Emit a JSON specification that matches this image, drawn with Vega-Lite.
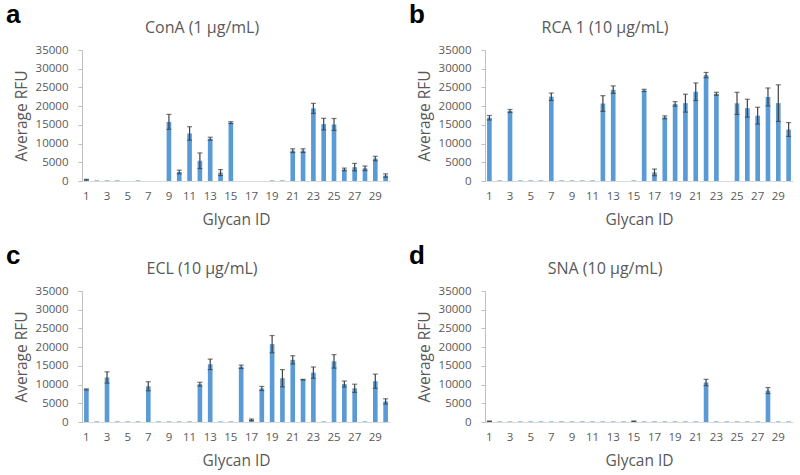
{
  "$schema": "https://vega.github.io/schema/vega-lite/v6.json",
  "padding": {"left": 6, "top": 2, "right": 2, "bottom": 2},
  "background": "white",
  "datasets": {
    "rfu": [
      {"panel":"a","id":1,"value":350,"err":100},{"panel":"a","id":2,"value":150,"err":0},{"panel":"a","id":3,"value":150,"err":0},{"panel":"a","id":4,"value":150,"err":0},{"panel":"a","id":5,"value":0,"err":0},{"panel":"a","id":6,"value":150,"err":0},{"panel":"a","id":7,"value":0,"err":0},{"panel":"a","id":8,"value":0,"err":0},{"panel":"a","id":9,"value":15800,"err":2000},{"panel":"a","id":10,"value":2400,"err":500},{"panel":"a","id":11,"value":12700,"err":1800},{"panel":"a","id":12,"value":5400,"err":2100},{"panel":"a","id":13,"value":11300,"err":400},{"panel":"a","id":14,"value":2250,"err":800},{"panel":"a","id":15,"value":15600,"err":250},{"panel":"a","id":16,"value":0,"err":0},{"panel":"a","id":17,"value":0,"err":0},{"panel":"a","id":18,"value":0,"err":0},{"panel":"a","id":19,"value":150,"err":0},{"panel":"a","id":20,"value":150,"err":0},{"panel":"a","id":21,"value":8100,"err":500},{"panel":"a","id":22,"value":8100,"err":500},{"panel":"a","id":23,"value":19400,"err":1350},{"panel":"a","id":24,"value":15200,"err":1550},{"panel":"a","id":25,"value":15100,"err":1600},{"panel":"a","id":26,"value":3100,"err":350},{"panel":"a","id":27,"value":3700,"err":1000},{"panel":"a","id":28,"value":3400,"err":600},{"panel":"a","id":29,"value":6000,"err":600},{"panel":"a","id":30,"value":1450,"err":450},
      {"panel":"b","id":1,"value":16900,"err":600},{"panel":"b","id":2,"value":150,"err":0},{"panel":"b","id":3,"value":18700,"err":400},{"panel":"b","id":4,"value":150,"err":0},{"panel":"b","id":5,"value":150,"err":0},{"panel":"b","id":6,"value":150,"err":0},{"panel":"b","id":7,"value":22500,"err":1000},{"panel":"b","id":8,"value":150,"err":0},{"panel":"b","id":9,"value":150,"err":0},{"panel":"b","id":10,"value":150,"err":0},{"panel":"b","id":11,"value":150,"err":0},{"panel":"b","id":12,"value":20700,"err":2100},{"panel":"b","id":13,"value":24400,"err":1000},{"panel":"b","id":14,"value":0,"err":0},{"panel":"b","id":15,"value":150,"err":0},{"panel":"b","id":16,"value":24200,"err":300},{"panel":"b","id":17,"value":2300,"err":900},{"panel":"b","id":18,"value":17000,"err":400},{"panel":"b","id":19,"value":20600,"err":600},{"panel":"b","id":20,"value":20800,"err":2400},{"panel":"b","id":21,"value":23850,"err":2350},{"panel":"b","id":22,"value":28300,"err":700},{"panel":"b","id":23,"value":23300,"err":400},{"panel":"b","id":24,"value":0,"err":0},{"panel":"b","id":25,"value":20750,"err":2950},{"panel":"b","id":26,"value":19450,"err":2400},{"panel":"b","id":27,"value":17450,"err":2250},{"panel":"b","id":28,"value":22450,"err":2400},{"panel":"b","id":29,"value":20800,"err":4900},{"panel":"b","id":30,"value":13750,"err":1850},
      {"panel":"c","id":1,"value":8700,"err":150},{"panel":"c","id":2,"value":150,"err":0},{"panel":"c","id":3,"value":11900,"err":1500},{"panel":"c","id":4,"value":150,"err":0},{"panel":"c","id":5,"value":150,"err":0},{"panel":"c","id":6,"value":150,"err":0},{"panel":"c","id":7,"value":9550,"err":1200},{"panel":"c","id":8,"value":150,"err":0},{"panel":"c","id":9,"value":150,"err":0},{"panel":"c","id":10,"value":150,"err":0},{"panel":"c","id":11,"value":150,"err":0},{"panel":"c","id":12,"value":10100,"err":500},{"panel":"c","id":13,"value":15400,"err":1400},{"panel":"c","id":14,"value":150,"err":0},{"panel":"c","id":15,"value":150,"err":0},{"panel":"c","id":16,"value":14750,"err":450},{"panel":"c","id":17,"value":600,"err":200},{"panel":"c","id":18,"value":8950,"err":550},{"panel":"c","id":19,"value":20800,"err":2300},{"panel":"c","id":20,"value":11700,"err":2300},{"panel":"c","id":21,"value":16600,"err":1100},{"panel":"c","id":22,"value":11300,"err":100},{"panel":"c","id":23,"value":13200,"err":1500},{"panel":"c","id":24,"value":150,"err":0},{"panel":"c","id":25,"value":16200,"err":1800},{"panel":"c","id":26,"value":10150,"err":800},{"panel":"c","id":27,"value":9000,"err":1100},{"panel":"c","id":28,"value":150,"err":0},{"panel":"c","id":29,"value":10900,"err":1900},{"panel":"c","id":30,"value":5500,"err":700},
      {"panel":"d","id":1,"value":200,"err":60},{"panel":"d","id":2,"value":150,"err":0},{"panel":"d","id":3,"value":150,"err":0},{"panel":"d","id":4,"value":150,"err":0},{"panel":"d","id":5,"value":150,"err":0},{"panel":"d","id":6,"value":150,"err":0},{"panel":"d","id":7,"value":150,"err":0},{"panel":"d","id":8,"value":150,"err":0},{"panel":"d","id":9,"value":150,"err":0},{"panel":"d","id":10,"value":150,"err":0},{"panel":"d","id":11,"value":150,"err":0},{"panel":"d","id":12,"value":150,"err":0},{"panel":"d","id":13,"value":150,"err":0},{"panel":"d","id":14,"value":150,"err":0},{"panel":"d","id":15,"value":200,"err":60},{"panel":"d","id":16,"value":150,"err":0},{"panel":"d","id":17,"value":150,"err":0},{"panel":"d","id":18,"value":150,"err":0},{"panel":"d","id":19,"value":150,"err":0},{"panel":"d","id":20,"value":150,"err":0},{"panel":"d","id":21,"value":150,"err":0},{"panel":"d","id":22,"value":10550,"err":850},{"panel":"d","id":23,"value":150,"err":0},{"panel":"d","id":24,"value":150,"err":0},{"panel":"d","id":25,"value":150,"err":0},{"panel":"d","id":26,"value":150,"err":0},{"panel":"d","id":27,"value":150,"err":0},{"panel":"d","id":28,"value":8400,"err":800},{"panel":"d","id":29,"value":150,"err":0},{"panel":"d","id":30,"value":150,"err":0}
    ]
  },
  "columns": 2,
  "spacing": {"row": 15, "column": 19},
  "concat": [
    {
      "title": {"text": "a", "anchor": "start", "frame": "bounds", "font": "Liberation Sans", "fontSize": 26, "fontWeight": "bold", "color": "#000000", "offset": 0, "dy": 8, "dx": -8},
      "vconcat": [{
        "width": 308, "height": 131,
        "title": {"text": "ConA (1 μg/mL)"},
        "data": {"name": "rfu"},
        "transform": [{"filter": {"field": "panel", "equal": "a"}}],
        "layer": [
          {"mark": {"type": "bar", "color": "#5b9bd5"},
           "encoding": {"x": {"field": "id", "type": "ordinal", "title": "Glycan ID", "axis": {"values": [1,3,5,7,9,11,13,15,17,19,21,23,25,27,29]}}, "y": {"field": "value", "type": "quantitative", "title": "Average RFU", "scale": {"domain": [0, 35000]}, "axis": {"values": [0,5000,10000,15000,20000,25000,30000,35000], "format": "d"}}}},
          {"transform": [{"filter": "datum.err > 0"}],
           "mark": {"type": "errorbar", "ticks": {"size": 5}, "color": "#3f3f3f", "thickness": 1.2},
           "encoding": {"x": {"field": "id", "type": "ordinal", "title": "Glycan ID", "axis": {"values": [1,3,5,7,9,11,13,15,17,19,21,23,25,27,29]}}, "y": {"field": "value", "type": "quantitative", "title": "Average RFU", "scale": {"domain": [0, 35000]}, "axis": {"values": [0,5000,10000,15000,20000,25000,30000,35000], "format": "d"}}, "yError": {"field": "err"}}}
        ]
      }]
    },
    {
      "title": {"text": "b", "anchor": "start", "frame": "bounds", "font": "Liberation Sans", "fontSize": 26, "fontWeight": "bold", "color": "#000000", "offset": 0, "dy": 8, "dx": -8},
      "vconcat": [{
        "width": 308, "height": 131,
        "title": {"text": "RCA 1 (10 μg/mL)"},
        "data": {"name": "rfu"},
        "transform": [{"filter": {"field": "panel", "equal": "b"}}],
        "layer": [
          {"mark": {"type": "bar", "color": "#5b9bd5"},
           "encoding": {"x": {"field": "id", "type": "ordinal", "title": "Glycan ID", "axis": {"values": [1,3,5,7,9,11,13,15,17,19,21,23,25,27,29]}}, "y": {"field": "value", "type": "quantitative", "title": "Average RFU", "scale": {"domain": [0, 35000]}, "axis": {"values": [0,5000,10000,15000,20000,25000,30000,35000], "format": "d"}}}},
          {"transform": [{"filter": "datum.err > 0"}],
           "mark": {"type": "errorbar", "ticks": {"size": 5}, "color": "#3f3f3f", "thickness": 1.2},
           "encoding": {"x": {"field": "id", "type": "ordinal", "title": "Glycan ID", "axis": {"values": [1,3,5,7,9,11,13,15,17,19,21,23,25,27,29]}}, "y": {"field": "value", "type": "quantitative", "title": "Average RFU", "scale": {"domain": [0, 35000]}, "axis": {"values": [0,5000,10000,15000,20000,25000,30000,35000], "format": "d"}}, "yError": {"field": "err"}}}
        ]
      }]
    },
    {
      "title": {"text": "c", "anchor": "start", "frame": "bounds", "font": "Liberation Sans", "fontSize": 26, "fontWeight": "bold", "color": "#000000", "offset": 0, "dy": 8, "dx": -8},
      "vconcat": [{
        "width": 308, "height": 131,
        "title": {"text": "ECL (10 μg/mL)"},
        "data": {"name": "rfu"},
        "transform": [{"filter": {"field": "panel", "equal": "c"}}],
        "layer": [
          {"mark": {"type": "bar", "color": "#5b9bd5"},
           "encoding": {"x": {"field": "id", "type": "ordinal", "title": "Glycan ID", "axis": {"values": [1,3,5,7,9,11,13,15,17,19,21,23,25,27,29]}}, "y": {"field": "value", "type": "quantitative", "title": "Average RFU", "scale": {"domain": [0, 35000]}, "axis": {"values": [0,5000,10000,15000,20000,25000,30000,35000], "format": "d"}}}},
          {"transform": [{"filter": "datum.err > 0"}],
           "mark": {"type": "errorbar", "ticks": {"size": 5}, "color": "#3f3f3f", "thickness": 1.2},
           "encoding": {"x": {"field": "id", "type": "ordinal", "title": "Glycan ID", "axis": {"values": [1,3,5,7,9,11,13,15,17,19,21,23,25,27,29]}}, "y": {"field": "value", "type": "quantitative", "title": "Average RFU", "scale": {"domain": [0, 35000]}, "axis": {"values": [0,5000,10000,15000,20000,25000,30000,35000], "format": "d"}}, "yError": {"field": "err"}}}
        ]
      }]
    },
    {
      "title": {"text": "d", "anchor": "start", "frame": "bounds", "font": "Liberation Sans", "fontSize": 26, "fontWeight": "bold", "color": "#000000", "offset": 0, "dy": 8, "dx": -8},
      "vconcat": [{
        "width": 308, "height": 131,
        "title": {"text": "SNA (10 μg/mL)"},
        "data": {"name": "rfu"},
        "transform": [{"filter": {"field": "panel", "equal": "d"}}],
        "layer": [
          {"mark": {"type": "bar", "color": "#5b9bd5"},
           "encoding": {"x": {"field": "id", "type": "ordinal", "title": "Glycan ID", "axis": {"values": [1,3,5,7,9,11,13,15,17,19,21,23,25,27,29]}}, "y": {"field": "value", "type": "quantitative", "title": "Average RFU", "scale": {"domain": [0, 35000]}, "axis": {"values": [0,5000,10000,15000,20000,25000,30000,35000], "format": "d"}}}},
          {"transform": [{"filter": "datum.err > 0"}],
           "mark": {"type": "errorbar", "ticks": {"size": 5}, "color": "#3f3f3f", "thickness": 1.2},
           "encoding": {"x": {"field": "id", "type": "ordinal", "title": "Glycan ID", "axis": {"values": [1,3,5,7,9,11,13,15,17,19,21,23,25,27,29]}}, "y": {"field": "value", "type": "quantitative", "title": "Average RFU", "scale": {"domain": [0, 35000]}, "axis": {"values": [0,5000,10000,15000,20000,25000,30000,35000], "format": "d"}}, "yError": {"field": "err"}}}
        ]
      }]
    }
  ],
  "config": {
    "view": {"stroke": null},
    "font": "Open Sans",
    "title": {"anchor": "middle", "frame": "bounds", "fontSize": 16, "fontWeight": "normal", "color": "#595959", "font": "Open Sans", "offset": 8},
    "scale": {"bandPaddingInner": 0.55, "bandPaddingOuter": 0.2},
    "axisX": {"labelAngle": 0, "ticks": false, "domainColor": "#d9d9d9", "domainWidth": 1.2, "labelPadding": 9, "titlePadding": 11, "grid": false, "labelFontSize": 11.5, "labelColor": "#595959", "titleFontSize": 15.5, "titleFontWeight": "normal", "titleColor": "#595959", "labelFont": "Open Sans", "titleFont": "Open Sans"},
    "axisY": {"grid": false, "labelOverlap": false, "domainColor": "#bfbfbf", "tickColor": "#bfbfbf", "tickSize": 4, "labelPadding": 10, "titlePadding": 6, "labelFontSize": 11.5, "labelColor": "#595959", "titleFontSize": 15.5, "titleFontWeight": "normal", "titleColor": "#595959", "labelFont": "Open Sans", "titleFont": "Open Sans"}
  }
}
